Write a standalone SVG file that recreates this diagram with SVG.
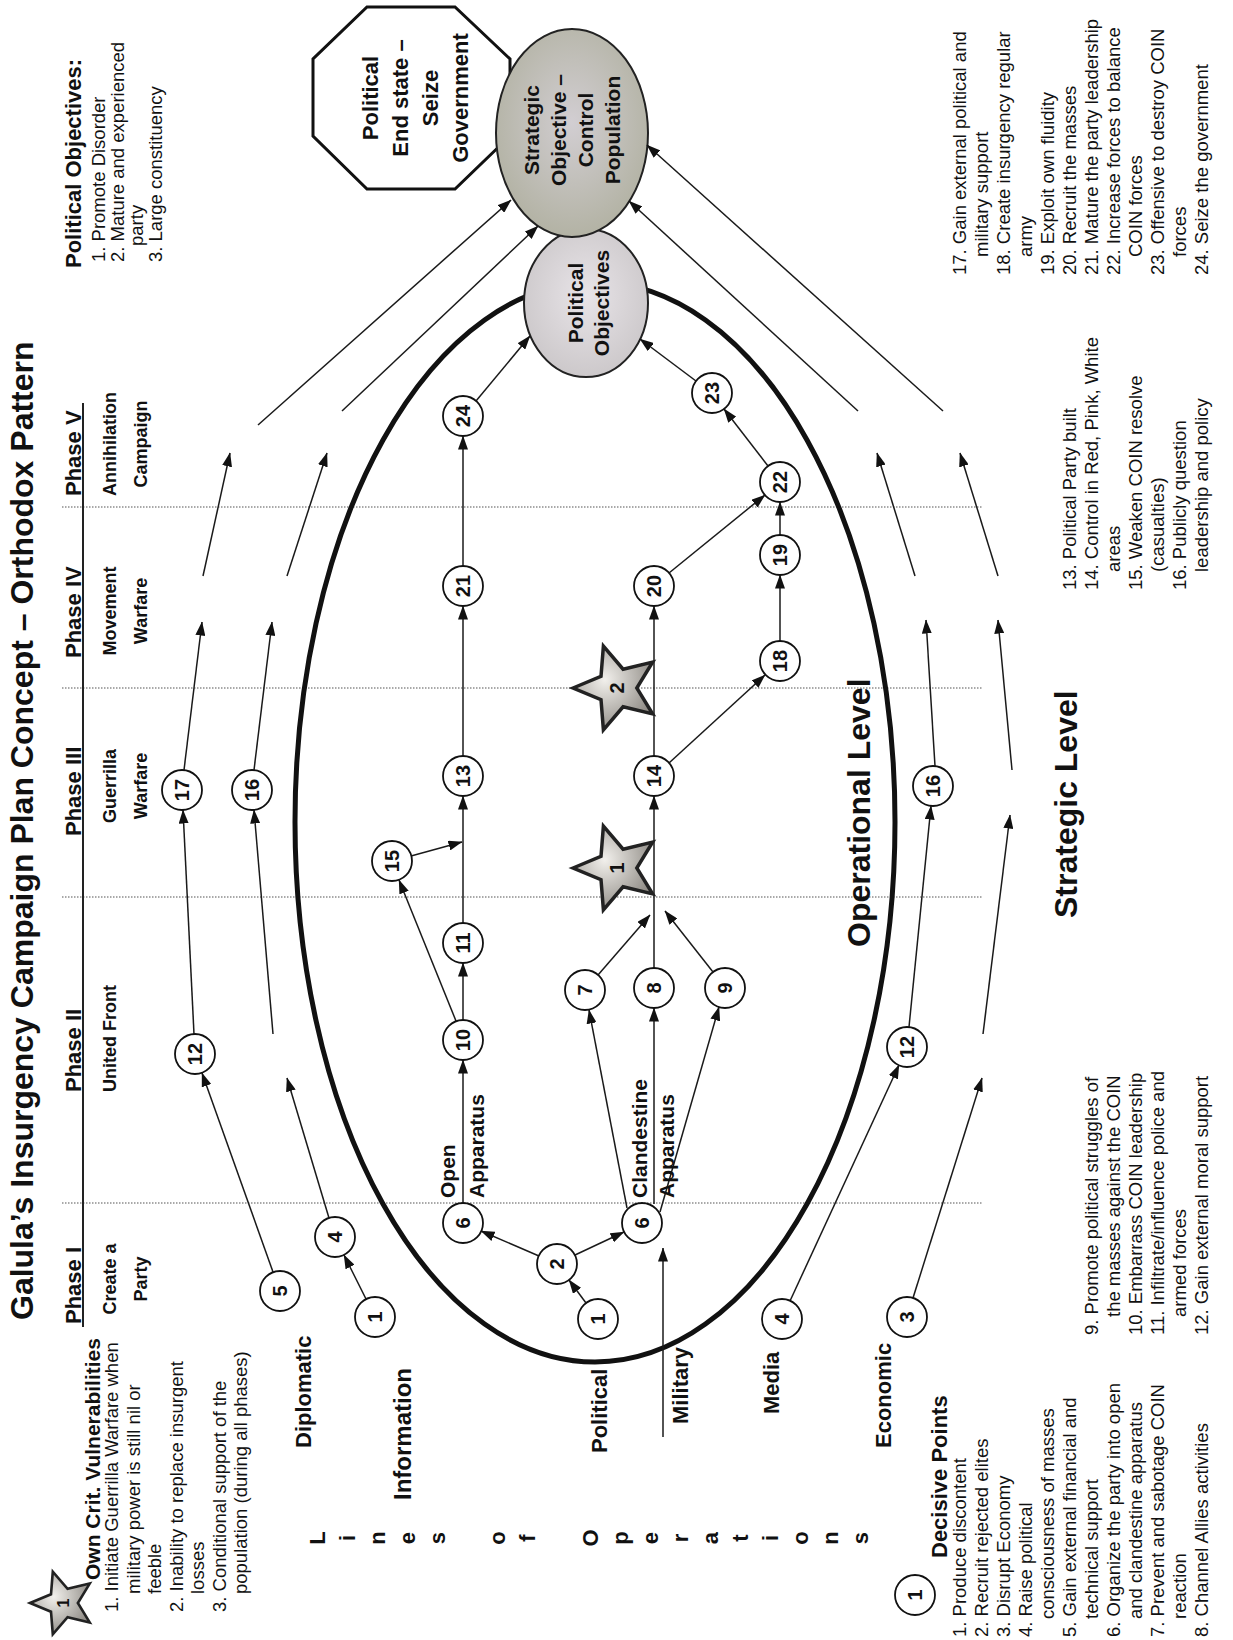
<svg xmlns="http://www.w3.org/2000/svg" width="1233" height="1640" viewBox="0 0 1233 1640">
<defs>
<style>
text{font-family:"Liberation Sans",Arial,Helvetica,sans-serif;fill:#111}
.ttl{font-size:32px;font-weight:bold}
.ph{font-size:22px;font-weight:bold}
.sub{font-size:18px;font-weight:bold}
.lbl{font-size:22px;font-weight:bold}
.lst{font-size:18.5px}
.nd{font-size:20px;font-weight:bold;text-anchor:middle}
.big{font-size:32px;font-weight:bold}
.mid{text-anchor:middle}
.node{fill:#fff;stroke:#111;stroke-width:1.8}
.con{stroke:#1a1a1a;stroke-width:1.5;fill:none;marker-end:url(#ah)}
.dot{stroke:#555;stroke-width:1.2;stroke-dasharray:1.5 1.5;fill:none}
.star{fill:url(#gStar);stroke:#222;stroke-width:3.5;stroke-linejoin:miter}
</style>
<marker id="ah" viewBox="0 0 14 10" markerWidth="14" markerHeight="10" refX="13.5" refY="5" orient="auto" markerUnits="userSpaceOnUse"><path d="M0,0 L14,5 L0,10 z" fill="#111"/></marker>
<radialGradient id="gStar" cx="40%" cy="40%" r="65%"><stop offset="0" stop-color="#f2f0ec"/><stop offset="1" stop-color="#8e8a84"/></radialGradient>
<radialGradient id="gStrat" cx="50%" cy="45%" r="60%"><stop offset="0" stop-color="#d2ced2"/><stop offset="1" stop-color="#b0b0a0"/></radialGradient>
<radialGradient id="gPol" cx="50%" cy="45%" r="60%"><stop offset="0" stop-color="#e8e4e8"/><stop offset="1" stop-color="#cac6c8"/></radialGradient>
<path id="starP" d="M-44,0 L-16,-11.6 L-13.6,-41.8 L6.1,-18.8 L35.6,-25.9 L19.8,0 L35.6,25.9 L6.1,18.8 L-13.6,41.8 L-16,11.6 Z"/>
</defs>
<rect width="1233" height="1640" fill="#fff"/>

<g id="phase-grid">
<line class="dot" x1="62" y1="1203" x2="982" y2="1203"/>
<line class="dot" x1="62" y1="897" x2="982" y2="897"/>
<line class="dot" x1="62" y1="688" x2="982" y2="688"/>
<line class="dot" x1="62" y1="507" x2="982" y2="507"/>
<line x1="83" y1="1327" x2="83" y2="403" stroke="#222" stroke-width="2"/>
</g>

<g id="operational-level">
<ellipse cx="595" cy="822" rx="300" ry="540" fill="none" stroke="#111" stroke-width="5"/>
</g>

<g id="end-state">
<polygon points="367,7 455,7 510,59 510,136 455,189 367,189 313,136 313,59" fill="#fff" stroke="#111" stroke-width="3"/>
</g>
<g id="political-objectives">
<ellipse cx="586" cy="303" rx="62" ry="74" fill="url(#gPol)" stroke="#222" stroke-width="2"/>
</g>
<g id="strategic-objective">
<ellipse cx="572" cy="133" rx="76" ry="104" fill="url(#gStrat)" stroke="#222" stroke-width="2"/>
</g>

<g id="connectors">
<path class="con" d="M366,1299 L344,1255"/>
<path class="con" d="M273,1272 L202,1073"/>
<path class="con" d="M194,1034 L183,810"/>
<path class="con" d="M184,770 L202,622"/>
<path class="con" d="M203,576 L230,453"/>
<path class="con" d="M258,425 L511,200"/>
<path class="con" d="M329,1218 L287,1078"/>
<path class="con" d="M273,1034 L254,810"/>
<path class="con" d="M254,770 L272,622"/>
<path class="con" d="M287,576 L327,453"/>
<path class="con" d="M342,411 L538,226"/>
<path class="con" d="M586,1303 L569,1280"/>
<path class="con" d="M539,1256 L481,1231"/>
<path class="con" d="M575,1255 L624,1232"/>
<path class="con" d="M663,1437 L663,1248"/>
<path class="con" d="M463,1203 L463,1060"/>
<path class="con" d="M463,1020 L463,963"/>
<path class="con" d="M456,1021 L399,880"/>
<path class="con" d="M411,856 L462,842"/>
<path class="con" d="M463,923 L463,796"/>
<path class="con" d="M463,756 L463,606"/>
<path class="con" d="M463,566 L463,436"/>
<path class="con" d="M476,401 L530,336"/>
<path class="con" d="M654,756 L654,606"/>
<path class="con" d="M654,968 L654,796"/>
<path class="con" d="M598,975 L650,915"/>
<path class="con" d="M713,972 L665,911"/>
<path class="con" d="M627,1208 L589,1010"/>
<path class="con" d="M654,1204 L654,1008"/>
<path class="con" d="M660,1212 L719,1007"/>
<path class="con" d="M669,763 L765,675"/>
<path class="con" d="M780,641 L780,575"/>
<path class="con" d="M780,535 L780,502"/>
<path class="con" d="M669,573 L765,495"/>
<path class="con" d="M768,466 L724,409"/>
<path class="con" d="M696,381 L640,339"/>
<path class="con" d="M790,1301 L899,1065"/>
<path class="con" d="M913,1298 L982,1078"/>
<path class="con" d="M909,1027 L931,806"/>
<path class="con" d="M983,1034 L1010,815"/>
<path class="con" d="M935,766 L926,620"/>
<path class="con" d="M1012,770 L998,620"/>
<path class="con" d="M915,576 L877,453"/>
<path class="con" d="M998,576 L960,453"/>
<path class="con" d="M858,411 L629,201"/>
<path class="con" d="M943,411 L647,145"/>
</g>

<g id="star-1"><use href="#starP" class="star" transform="translate(617 868)"/><text class="nd" x="617" y="875" transform="rotate(-90 617 868)">1</text></g>
<g id="star-2"><use href="#starP" class="star" transform="translate(617 688)"/><text class="nd" x="617" y="695" transform="rotate(-90 617 688)">2</text></g>
<g id="legend-star"><use href="#starP" class="star" transform="translate(63 1603) scale(0.75)"/><text class="nd" style="font-size:16px" x="63" y="1609" transform="rotate(-90 63 1603)">1</text></g>

<g id="node-5"><circle class="node" cx="280" cy="1291" r="20"/><text class="nd" x="280" y="1298" transform="rotate(-90 280 1291)">5</text></g>
<g id="node-4-dip"><circle class="node" cx="335" cy="1237" r="20"/><text class="nd" x="335" y="1244" transform="rotate(-90 335 1237)">4</text></g>
<g id="node-1-info"><circle class="node" cx="375" cy="1317" r="20"/><text class="nd" x="375" y="1324" transform="rotate(-90 375 1317)">1</text></g>
<g id="node-12-a"><circle class="node" cx="195" cy="1054" r="20"/><text class="nd" x="195" y="1061" transform="rotate(-90 195 1054)">12</text></g>
<g id="node-17"><circle class="node" cx="182" cy="790" r="20"/><text class="nd" x="182" y="797" transform="rotate(-90 182 790)">17</text></g>
<g id="node-16-a"><circle class="node" cx="252" cy="790" r="20"/><text class="nd" x="252" y="797" transform="rotate(-90 252 790)">16</text></g>
<g id="node-1-pol"><circle class="node" cx="598" cy="1319" r="20"/><text class="nd" x="598" y="1326" transform="rotate(-90 598 1319)">1</text></g>
<g id="node-2"><circle class="node" cx="557" cy="1264" r="20"/><text class="nd" x="557" y="1271" transform="rotate(-90 557 1264)">2</text></g>
<g id="node-6-open"><circle class="node" cx="463" cy="1223" r="20"/><text class="nd" x="463" y="1230" transform="rotate(-90 463 1223)">6</text></g>
<g id="node-6-clan"><circle class="node" cx="642" cy="1223" r="20"/><text class="nd" x="642" y="1230" transform="rotate(-90 642 1223)">6</text></g>
<g id="node-10"><circle class="node" cx="463" cy="1040" r="20"/><text class="nd" x="463" y="1047" transform="rotate(-90 463 1040)">10</text></g>
<g id="node-11"><circle class="node" cx="463" cy="943" r="20"/><text class="nd" x="463" y="950" transform="rotate(-90 463 943)">11</text></g>
<g id="node-15"><circle class="node" cx="392" cy="861" r="20"/><text class="nd" x="392" y="868" transform="rotate(-90 392 861)">15</text></g>
<g id="node-13"><circle class="node" cx="463" cy="776" r="20"/><text class="nd" x="463" y="783" transform="rotate(-90 463 776)">13</text></g>
<g id="node-21"><circle class="node" cx="463" cy="586" r="20"/><text class="nd" x="463" y="593" transform="rotate(-90 463 586)">21</text></g>
<g id="node-24"><circle class="node" cx="463" cy="416" r="20"/><text class="nd" x="463" y="423" transform="rotate(-90 463 416)">24</text></g>
<g id="node-7"><circle class="node" cx="585" cy="990" r="20"/><text class="nd" x="585" y="997" transform="rotate(-90 585 990)">7</text></g>
<g id="node-8"><circle class="node" cx="654" cy="988" r="20"/><text class="nd" x="654" y="995" transform="rotate(-90 654 988)">8</text></g>
<g id="node-9"><circle class="node" cx="725" cy="988" r="20"/><text class="nd" x="725" y="995" transform="rotate(-90 725 988)">9</text></g>
<g id="node-14"><circle class="node" cx="654" cy="776" r="20"/><text class="nd" x="654" y="783" transform="rotate(-90 654 776)">14</text></g>
<g id="node-20"><circle class="node" cx="654" cy="586" r="20"/><text class="nd" x="654" y="593" transform="rotate(-90 654 586)">20</text></g>
<g id="node-18"><circle class="node" cx="780" cy="661" r="20"/><text class="nd" x="780" y="668" transform="rotate(-90 780 661)">18</text></g>
<g id="node-19"><circle class="node" cx="780" cy="555" r="20"/><text class="nd" x="780" y="562" transform="rotate(-90 780 555)">19</text></g>
<g id="node-22"><circle class="node" cx="780" cy="482" r="20"/><text class="nd" x="780" y="489" transform="rotate(-90 780 482)">22</text></g>
<g id="node-23"><circle class="node" cx="712" cy="393" r="20"/><text class="nd" x="712" y="400" transform="rotate(-90 712 393)">23</text></g>
<g id="node-4-media"><circle class="node" cx="782" cy="1319" r="20"/><text class="nd" x="782" y="1326" transform="rotate(-90 782 1319)">4</text></g>
<g id="node-3-eco"><circle class="node" cx="907" cy="1317" r="20"/><text class="nd" x="907" y="1324" transform="rotate(-90 907 1317)">3</text></g>
<g id="node-12-s"><circle class="node" cx="907" cy="1047" r="20"/><text class="nd" x="907" y="1054" transform="rotate(-90 907 1047)">12</text></g>
<g id="node-16-s"><circle class="node" cx="933" cy="786" r="20"/><text class="nd" x="933" y="793" transform="rotate(-90 933 786)">16</text></g>
<g id="legend-node"><circle class="node" cx="915" cy="1595" r="20"/><text class="nd" x="915" y="1602" transform="rotate(-90 915 1595)">1</text></g>

<g id="labels" transform="translate(0 1640) rotate(-90)">
<text class="ttl" x="320" y="33">Galula’s Insurgency Campaign Plan Concept – Orthodox Pattern</text>
<text class="ph" x="316" y="81">Phase I</text>
<text class="ph" x="548" y="81">Phase II</text>
<text class="ph" x="804" y="81">Phase III</text>
<text class="ph" x="982" y="81">Phase IV</text>
<text class="ph" x="1144" y="81">Phase V</text>
<text class="sub mid" x="361" y="116">Create a</text>
<text class="sub mid" x="361" y="147">Party</text>
<text class="sub" x="548" y="116">United Front</text>
<text class="sub mid" x="854" y="116">Guerrilla</text>
<text class="sub mid" x="854" y="147">Warfare</text>
<text class="sub mid" x="1029" y="116">Movement</text>
<text class="sub mid" x="1029" y="147">Warfare</text>
<text class="sub mid" x="1196" y="116">Annihilation</text>
<text class="sub mid" x="1196" y="147">Campaign</text>

<text class="ph" x="1372" y="81">Political Objectives:</text>
<text class="lst" x="1378" y="105">1. Promote Disorder</text>
<text class="lst" x="1378" y="124">2. Mature and experienced</text>
<text class="lst" x="1394" y="143">party</text>
<text class="lst" x="1378" y="162">3. Large constituency</text>

<text class="lbl mid" x="1542" y="378">Political</text>
<text class="lbl mid" x="1542" y="408">End state –</text>
<text class="lbl mid" x="1542" y="438">Seize</text>
<text class="lbl mid" x="1542" y="468">Government</text>

<text class="lbl mid" style="font-size:21px" x="1510" y="539">Strategic</text>
<text class="lbl mid" style="font-size:21px" x="1510" y="566">Objective –</text>
<text class="lbl mid" style="font-size:21px" x="1510" y="593">Control</text>
<text class="lbl mid" style="font-size:21px" x="1510" y="620">Population</text>

<text class="lbl mid" style="font-size:21px" x="1337" y="583">Political</text>
<text class="lbl mid" style="font-size:21px" x="1337" y="609">Objectives</text>

<text class="lbl" style="font-size:21px" x="60" y="100">Own Crit. Vulnerabilities</text>
<text class="lst" x="28" y="118">1. Initiate Guerrilla Warfare when</text>
<text class="lst" x="46" y="139.5">military power is still nil or</text>
<text class="lst" x="46" y="161">feeble</text>
<text class="lst" x="28" y="182.5">2. Inability to replace insurgent</text>
<text class="lst" x="46" y="204">losses</text>
<text class="lst" x="28" y="225.5">3. Conditional support of the</text>
<text class="lst" x="46" y="247">population (during all phases)</text>

<text class="lbl" x="192" y="311">Diplomatic</text>
<text class="lbl" style="font-size:24px" x="140" y="411">Information</text>
<text class="lbl" x="187" y="607">Political</text>
<text class="lbl" x="216" y="688">Military</text>
<text class="lbl" x="226" y="779">Media</text>
<text class="lbl" x="192" y="891">Economic</text>

<text class="lbl" style="font-size:21px" x="442" y="455">Open</text>
<text class="lbl" style="font-size:21px" x="442" y="484">Apparatus</text>
<text class="lbl" style="font-size:21px" x="442" y="647">Clandestine</text>
<text class="lbl" style="font-size:21px" x="442" y="674">Apparatus</text>

<text class="big" x="693" y="870">Operational Level</text>
<text class="big" x="722" y="1077">Strategic Level</text>

<g id="lines-of-operations">
<text class="lbl mid" x="102" y="325">L</text>
<text class="lbl mid" x="102" y="355">i</text>
<text class="lbl mid" x="102" y="385">n</text>
<text class="lbl mid" x="102" y="415">e</text>
<text class="lbl mid" x="102" y="445">s</text>
<text class="lbl mid" x="102" y="505">o</text>
<text class="lbl mid" x="102" y="535">f</text>
<text class="lbl mid" x="102" y="598">O</text>
<text class="lbl mid" x="102" y="628">p</text>
<text class="lbl mid" x="102" y="658">e</text>
<text class="lbl mid" x="102" y="688">r</text>
<text class="lbl mid" x="102" y="718">a</text>
<text class="lbl mid" x="102" y="748">t</text>
<text class="lbl mid" x="102" y="778">i</text>
<text class="lbl mid" x="102" y="808">o</text>
<text class="lbl mid" x="102" y="838">n</text>
<text class="lbl mid" x="102" y="868">s</text>
</g>

<text class="lbl" x="82" y="947">Decisive Points</text>
<text class="lst" x="3" y="966">1. Produce discontent</text>
<text class="lst" x="3" y="988">2. Recruit rejected elites</text>
<text class="lst" x="3" y="1010">3. Disrupt Economy</text>
<text class="lst" x="3" y="1032">4. Raise political</text>
<text class="lst" x="21" y="1054">consciousness of masses</text>
<text class="lst" x="3" y="1076">5. Gain external financial and</text>
<text class="lst" x="21" y="1098">technical support</text>
<text class="lst" x="3" y="1120">6. Organize the party into open</text>
<text class="lst" x="21" y="1142">and clandestine apparatus</text>
<text class="lst" x="3" y="1164">7. Prevent and sabotage COIN</text>
<text class="lst" x="21" y="1186">reaction</text>
<text class="lst" x="3" y="1208">8. Channel Allies activities</text>

<text class="lst" x="305" y="1098">9. Promote political struggles of</text>
<text class="lst" x="323" y="1120">the masses against the COIN</text>
<text class="lst" x="305" y="1142">10. Embarrass COIN leadership</text>
<text class="lst" x="305" y="1164">11. Infiltrate/influence police and</text>
<text class="lst" x="323" y="1186">armed forces</text>
<text class="lst" x="305" y="1208">12. Gain external moral support</text>

<text class="lst" x="1050" y="1076">13. Political Party built</text>
<text class="lst" x="1050" y="1098">14. Control in Red, Pink, White</text>
<text class="lst" x="1068" y="1120">areas</text>
<text class="lst" x="1050" y="1142">15. Weaken COIN resolve</text>
<text class="lst" x="1068" y="1164">(casualties)</text>
<text class="lst" x="1050" y="1186">16. Publicly question</text>
<text class="lst" x="1068" y="1208">leadership and policy</text>

<text class="lst" x="1365" y="966">17. Gain external political and</text>
<text class="lst" x="1383" y="988">military support</text>
<text class="lst" x="1365" y="1010">18. Create insurgency regular</text>
<text class="lst" x="1383" y="1032">army</text>
<text class="lst" x="1365" y="1054">19. Exploit own fluidity</text>
<text class="lst" x="1365" y="1076">20. Recruit the masses</text>
<text class="lst" x="1365" y="1098">21. Mature the party leadership</text>
<text class="lst" x="1365" y="1120">22. Increase forces to balance</text>
<text class="lst" x="1383" y="1142">COIN forces</text>
<text class="lst" x="1365" y="1164">23. Offensive to destroy COIN</text>
<text class="lst" x="1383" y="1186">forces</text>
<text class="lst" x="1365" y="1208">24. Seize the government</text>
</g>
</svg>
